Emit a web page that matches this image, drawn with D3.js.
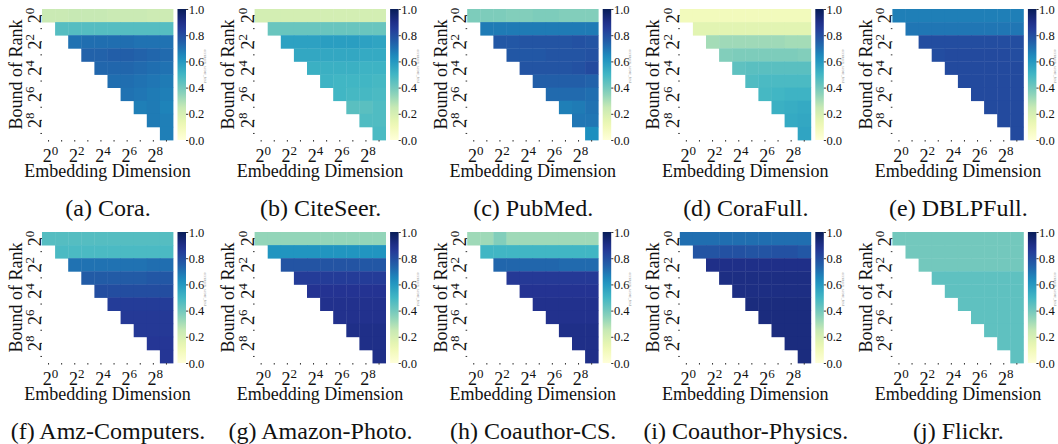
<!DOCTYPE html>
<html>
<head>
<meta charset="utf-8">
<script src="https://cdn.jsdelivr.net/npm/d3@7"></script>
<style>
  body { margin: 0; background: #fff; }
  svg { display: block; }
  text { font-family: "Liberation Serif", "Times New Roman", serif; fill: #111; }
</style>
</head>
<body>
<div id="chart"></div>
<script>
// exponents of 2 for both axes (row = bound of rank, col = embedding dimension)
var exps = [0, 1, 2, 3, 4, 5, 6, 7, 8, 9];
var labelledExps = [0, 2, 4, 6, 8];
var cbarTicks = [0.0, 0.2, 0.4, 0.6, 0.8, 1.0];
// matplotlib YlGnBu stops
var ylgnbu = ["#ffffd9", "#edf8b1", "#c7e9b4", "#7fcdbb", "#41b6c4", "#1d91c0", "#225ea8", "#253494", "#081d58"];

// each row i holds the cells for columns i..9 (upper triangle)
var cora = [
  [0.24, 0.24, 0.25, 0.25, 0.25, 0.24, 0.24, 0.24, 0.23, 0.23],
  [0.46, 0.46, 0.46, 0.46, 0.46, 0.46, 0.46, 0.46, 0.46],
  [0.70, 0.71, 0.71, 0.71, 0.71, 0.70, 0.70, 0.70],
  [0.74, 0.74, 0.75, 0.75, 0.74, 0.73, 0.72],
  [0.73, 0.73, 0.73, 0.72, 0.71, 0.70],
  [0.71, 0.71, 0.70, 0.69, 0.68],
  [0.70, 0.69, 0.68, 0.67],
  [0.67, 0.68, 0.66],
  [0.68, 0.67],
  [0.67]
];
var citeseer = [
  [0.21, 0.21, 0.21, 0.21, 0.21, 0.21, 0.21, 0.21, 0.21, 0.21],
  [0.42, 0.42, 0.42, 0.42, 0.42, 0.42, 0.42, 0.42, 0.42],
  [0.57, 0.57, 0.57, 0.58, 0.58, 0.58, 0.57, 0.56],
  [0.55, 0.55, 0.55, 0.55, 0.55, 0.54, 0.54],
  [0.52, 0.52, 0.52, 0.52, 0.51, 0.51],
  [0.51, 0.50, 0.50, 0.50, 0.49],
  [0.50, 0.49, 0.49, 0.48],
  [0.45, 0.45, 0.47],
  [0.47, 0.47],
  [0.48]
];
var pubmed = [
  [0.38, 0.38, 0.38, 0.37, 0.37, 0.38, 0.38, 0.37, 0.37, 0.37],
  [0.68, 0.68, 0.68, 0.68, 0.68, 0.68, 0.68, 0.68, 0.68],
  [0.77, 0.77, 0.78, 0.78, 0.78, 0.78, 0.79, 0.78],
  [0.77, 0.77, 0.77, 0.78, 0.78, 0.78, 0.79],
  [0.78, 0.78, 0.78, 0.78, 0.79, 0.81],
  [0.75, 0.75, 0.75, 0.75, 0.74],
  [0.72, 0.72, 0.72, 0.71],
  [0.67, 0.68, 0.70],
  [0.69, 0.69],
  [0.63]
];
var corafull = [
  [0.09, 0.09, 0.09, 0.09, 0.09, 0.09, 0.09, 0.09, 0.09, 0.09],
  [0.16, 0.16, 0.16, 0.16, 0.16, 0.16, 0.16, 0.16, 0.16],
  [0.31, 0.32, 0.32, 0.32, 0.32, 0.32, 0.31, 0.31],
  [0.37, 0.38, 0.38, 0.38, 0.38, 0.38, 0.37],
  [0.44, 0.45, 0.45, 0.45, 0.45, 0.45],
  [0.47, 0.48, 0.48, 0.48, 0.48],
  [0.49, 0.50, 0.51, 0.51],
  [0.52, 0.53, 0.54],
  [0.54, 0.55],
  [0.56]
];
var dblpfull = [
  [0.67, 0.67, 0.67, 0.67, 0.67, 0.67, 0.67, 0.67, 0.67, 0.67],
  [0.69, 0.69, 0.69, 0.69, 0.69, 0.69, 0.69, 0.69, 0.69],
  [0.80, 0.80, 0.80, 0.80, 0.80, 0.80, 0.80, 0.80],
  [0.80, 0.81, 0.81, 0.81, 0.81, 0.81, 0.80],
  [0.81, 0.81, 0.81, 0.81, 0.81, 0.81],
  [0.81, 0.81, 0.81, 0.81, 0.81],
  [0.81, 0.81, 0.81, 0.81],
  [0.81, 0.81, 0.81],
  [0.81, 0.81],
  [0.81]
];
var amzComputers = [
  [0.46, 0.46, 0.46, 0.46, 0.46, 0.46, 0.46, 0.46, 0.46, 0.46],
  [0.48, 0.48, 0.48, 0.48, 0.48, 0.48, 0.48, 0.48, 0.48],
  [0.70, 0.70, 0.70, 0.70, 0.70, 0.70, 0.71, 0.71],
  [0.76, 0.76, 0.76, 0.76, 0.76, 0.77, 0.77],
  [0.80, 0.80, 0.80, 0.80, 0.80, 0.80],
  [0.85, 0.85, 0.85, 0.85, 0.85],
  [0.86, 0.86, 0.86, 0.86],
  [0.86, 0.86, 0.86],
  [0.87, 0.87],
  [0.87]
];
var amazonPhoto = [
  [0.34, 0.34, 0.34, 0.34, 0.34, 0.34, 0.34, 0.34, 0.34, 0.34],
  [0.61, 0.61, 0.61, 0.61, 0.61, 0.61, 0.61, 0.61, 0.61],
  [0.78, 0.78, 0.78, 0.78, 0.78, 0.78, 0.77, 0.77],
  [0.85, 0.85, 0.85, 0.85, 0.85, 0.85, 0.85],
  [0.88, 0.88, 0.88, 0.88, 0.88, 0.88],
  [0.89, 0.89, 0.89, 0.89, 0.89],
  [0.89, 0.89, 0.89, 0.89],
  [0.90, 0.90, 0.90],
  [0.90, 0.90],
  [0.90]
];
var coauthorCS = [
  [0.32, 0.32, 0.37, 0.32, 0.32, 0.32, 0.32, 0.32, 0.32, 0.32],
  [0.50, 0.50, 0.50, 0.50, 0.50, 0.50, 0.50, 0.50, 0.50],
  [0.73, 0.73, 0.73, 0.73, 0.73, 0.72, 0.72, 0.72],
  [0.86, 0.86, 0.86, 0.86, 0.86, 0.86, 0.86],
  [0.88, 0.88, 0.88, 0.88, 0.88, 0.88],
  [0.89, 0.89, 0.89, 0.89, 0.89],
  [0.89, 0.89, 0.89, 0.89],
  [0.90, 0.90, 0.90],
  [0.90, 0.90],
  [0.90]
];
var coauthorPhysics = [
  [0.71, 0.71, 0.71, 0.71, 0.71, 0.71, 0.71, 0.71, 0.71, 0.71],
  [0.78, 0.78, 0.79, 0.79, 0.78, 0.78, 0.79, 0.79, 0.77],
  [0.90, 0.90, 0.90, 0.90, 0.90, 0.90, 0.90, 0.90],
  [0.91, 0.91, 0.91, 0.91, 0.91, 0.91, 0.91],
  [0.91, 0.91, 0.91, 0.91, 0.91, 0.91],
  [0.92, 0.92, 0.92, 0.92, 0.92],
  [0.92, 0.92, 0.92, 0.92],
  [0.92, 0.92, 0.92],
  [0.92, 0.92],
  [0.92]
];
var flickr = [
  [0.40, 0.40, 0.40, 0.40, 0.40, 0.40, 0.40, 0.40, 0.40, 0.40],
  [0.40, 0.40, 0.40, 0.40, 0.40, 0.40, 0.40, 0.40, 0.40],
  [0.40, 0.40, 0.40, 0.40, 0.40, 0.40, 0.40, 0.40],
  [0.44, 0.44, 0.44, 0.44, 0.44, 0.44, 0.44],
  [0.44, 0.44, 0.44, 0.44, 0.44, 0.44],
  [0.44, 0.44, 0.44, 0.44, 0.44],
  [0.44, 0.44, 0.44, 0.44],
  [0.44, 0.44, 0.44],
  [0.44, 0.44],
  [0.44]
];

var captions = ["(a) Cora.", "(b) CiteSeer.", "(c) PubMed.", "(d) CoraFull.", "(e) DBLPFull.",
                "(f) Amz-Computers.", "(g) Amazon-Photo.", "(h) Coauthor-CS.", "(i) Coauthor-Physics.", "(j) Flickr."];
var matrices = [cora, citeseer, pubmed, corafull, dblpfull,
                amzComputers, amazonPhoto, coauthorCS, coauthorPhysics, flickr];

var W = 1058, H = 444;
var svg = d3.select("#chart").append("svg")
    .attr("width", W)
    .attr("height", H);

var color = d3.scaleLinear()
    .domain(ylgnbu.map(function(c, i) { return i / (ylgnbu.length - 1); }))
    .range(ylgnbu)
    .interpolate(d3.interpolateRgb)
    .clamp(true);

// vertical gradient for the colorbar (shared)
var grad = svg.append("defs").append("linearGradient")
    .attr("id", "cbar")
    .attr("x1", 0).attr("y1", 1).attr("x2", 0).attr("y2", 0);
grad.selectAll("stop").data(d3.range(0, 1.0001, 0.05)).join("stop")
    .attr("offset", function(d) { return d; })
    .attr("stop-color", function(d) { return color(d); });

var hmLeft = 42, hmTop = 9, hmSize = 131;

function addPow(sel, exp, baseSize, supSize) {
    sel.append("tspan").style("font-size", baseSize + "px").text("2");
    sel.append("tspan").style("font-size", supSize + "px").attr("dy", -7).text(exp);
}

function drawPanel(g, rows, caption) {
    var x = d3.scaleBand().domain(exps).range([hmLeft, hmLeft + hmSize]);
    var y = d3.scaleBand().domain(exps).range([hmTop, hmTop + hmSize]);

    var cells = [];
    rows.forEach(function(r, i) {
        r.forEach(function(v, k) { cells.push({row: i, col: i + k, value: v}); });
    });

    g.selectAll("rect.cell").data(cells).join("rect")
        .attr("class", "cell")
        .attr("x", function(d) { return x(d.col); })
        .attr("y", function(d) { return y(d.row); })
        .attr("width", x.bandwidth() + 0.4)
        .attr("height", y.bandwidth() + 0.4)
        .attr("fill", function(d) { return color(d.value); });

    // x axis: tiny ticks on every column, labels on even exponents
    var xAxis = g.append("g")
        .attr("transform", "translate(0," + (hmTop + hmSize) + ")")
        .call(d3.axisBottom(x).tickSize(1.6).tickFormat(""));
    xAxis.select(".domain").remove();
    xAxis.selectAll(".tick line").attr("stroke", "#333");
    xAxis.selectAll(".tick")
        .filter(function(d) { return labelledExps.indexOf(d) >= 0; })
        .append("text")
        .attr("x", 2)
        .attr("y", 22)
        .attr("text-anchor", "middle")
        .style("fill", "#111")
        .each(function(d) { addPow(d3.select(this), d, 18, 13); });

    var yAxis = g.append("g")
        .attr("transform", "translate(" + hmLeft + ",0)")
        .call(d3.axisLeft(y).tickSize(1.6).tickFormat(""));
    yAxis.select(".domain").remove();
    yAxis.selectAll(".tick line").attr("stroke", "#333");
    yAxis.selectAll(".tick")
        .filter(function(d) { return labelledExps.indexOf(d) >= 0; })
        .append("text")
        .attr("transform", "translate(-1,0) rotate(-90)")
        .attr("text-anchor", "middle")
        .style("fill", "#111")
        .each(function(d) { addPow(d3.select(this), d, 18, 13); });

    // axis titles
    g.append("text")
        .attr("transform", "translate(21.5," + (hmTop + hmSize / 2) + ") rotate(-90)")
        .attr("text-anchor", "middle")
        .style("font-size", "18px")
        .text("Bound of Rank");

    g.append("text")
        .attr("x", hmLeft + hmSize / 2)
        .attr("y", 177)
        .attr("text-anchor", "middle")
        .style("font-size", "18px")
        .text("Embedding Dimension");

    // colorbar
    var cb = d3.scaleLinear().domain([0, 1]).range([hmTop + hmSize, hmTop]);
    g.append("rect")
        .attr("x", 177.5)
        .attr("y", hmTop)
        .attr("width", 8.5)
        .attr("height", hmSize)
        .attr("fill", "url(#cbar)");
    var cbAxis = g.append("g")
        .attr("transform", "translate(186,0)")
        .call(d3.axisRight(cb).tickValues(cbarTicks).tickSize(2.2).tickPadding(0.5).tickFormat(d3.format(".1f")));
    cbAxis.select(".domain").remove();
    cbAxis.selectAll(".tick line").attr("stroke", "#333");
    cbAxis.selectAll(".tick text")
        .style("font-size", "12.5px")
        .style("fill", "#111");

    g.append("text")
        .attr("transform", "translate(205.5," + (hmTop + 57) + ") rotate(90)")
        .attr("text-anchor", "middle")
        .attr("dy", "0.35em")
        .style("font-size", "4.2px")
        .style("fill", "#999")
        .text("accuracy_score_test");

    g.append("text")
        .attr("x", 108)
        .attr("y", 216)
        .attr("text-anchor", "middle")
        .style("font-size", "24px")
        .text(caption);
}

matrices.forEach(function(m, i) {
    var col = i % 5, row = Math.floor(i / 5);
    var g = svg.append("g")
        .attr("transform", "translate(" + (col * 212.6) + "," + (row * 223) + ")");
    drawPanel(g, m, captions[i]);
});
</script>
</body>
</html>
